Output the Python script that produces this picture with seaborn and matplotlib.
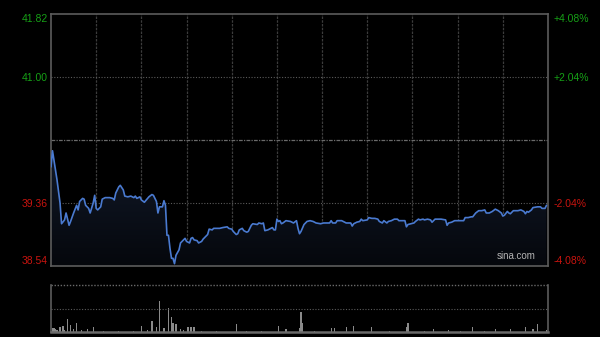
import numpy as np
import pandas as pd
import matplotlib
matplotlib.use("Agg")
import matplotlib.pyplot as plt
import seaborn as sns
from matplotlib.colors import LinearSegmentedColormap

# ---------------- data ----------------
prev_close = 40.18
minutes = [0, 1, 4, 6, 7, 9, 10, 12, 13, 15,
           17, 18, 19, 21, 22, 23, 25, 26, 28, 29,
           30, 31, 33, 34, 36, 39, 41, 42, 43, 45,
           46, 48, 49, 51, 53, 55, 56, 57, 59, 60,
           62, 65, 67, 68, 70, 71, 72, 74, 75, 76,
           77, 78, 79, 80, 81, 82, 83, 85, 86, 88,
           89, 90, 92, 93, 94, 95, 97, 98, 100, 101,
           103, 104, 105, 107, 108, 112, 114, 117, 118, 120,
           121, 123, 124, 125, 127, 128, 130, 131, 133, 134,
           137, 138, 140, 141, 142, 144, 147, 148, 149, 150,
           151, 152, 153, 154, 156, 159, 161, 163, 164, 165,
           166, 168, 170, 172, 174, 176, 179, 181, 183, 185,
           186, 187, 189, 190, 193, 194, 196, 197, 199, 200,
           201, 203, 205, 206, 207, 210, 211, 213, 215, 217,
           218, 220, 221, 223, 224, 226, 228, 230, 231, 233,
           235, 236, 237, 239, 241, 242, 244, 245, 247, 248,
           250, 252, 253, 255, 257, 259, 262, 263, 264, 266,
           268, 270, 274, 275, 277, 279, 280, 282, 284, 286,
           288, 289, 291, 293, 295, 297, 299, 300, 301, 303,
           304, 305, 307, 309, 310, 312, 314, 315, 316, 317,
           319, 320, 323, 325, 326, 328, 329]
prices = [39.83, 40.04, 39.66, 39.36, 39.09, 39.14, 39.23, 39.07, 39.12, 39.23,
          39.33, 39.27, 39.38, 39.42, 39.41, 39.33, 39.29, 39.23, 39.36, 39.46,
          39.29, 39.27, 39.31, 39.41, 39.43, 39.43, 39.42, 39.40, 39.49, 39.57,
          39.59, 39.53, 39.45, 39.44, 39.45, 39.43, 39.45, 39.42, 39.44, 39.40,
          39.37, 39.44, 39.47, 39.46, 39.38, 39.23, 39.31, 39.31, 39.39, 39.33,
          38.94, 38.94, 38.77, 38.64, 38.64, 38.57, 38.68, 38.75, 38.84, 38.88,
          38.90, 38.86, 38.84, 38.90, 38.91, 38.88, 38.87, 38.84, 38.86, 38.89,
          38.93, 38.95, 39.02, 39.01, 39.03, 39.03, 39.04, 39.05, 39.03, 39.02,
          38.99, 38.95, 38.96, 39.01, 39.03, 39.00, 38.98, 38.99, 39.07, 39.09,
          39.08, 39.10, 39.09, 39.10, 39.00, 39.01, 39.04, 39.01, 39.01, 39.15,
          39.12, 39.13, 39.09, 39.10, 39.13, 39.12, 39.10, 39.13, 39.03, 38.96,
          38.99, 39.08, 39.12, 39.13, 39.12, 39.10, 39.09, 39.10, 39.10, 39.10,
          39.13, 39.10, 39.10, 39.13, 39.13, 39.12, 39.10, 39.10, 39.10, 39.06,
          39.09, 39.11, 39.12, 39.15, 39.13, 39.14, 39.17, 39.16, 39.16, 39.15,
          39.12, 39.10, 39.13, 39.10, 39.12, 39.13, 39.15, 39.15, 39.13, 39.13,
          39.13, 39.05, 39.08, 39.09, 39.10, 39.12, 39.15, 39.14, 39.15, 39.14,
          39.15, 39.14, 39.11, 39.15, 39.15, 39.15, 39.14, 39.07, 39.10, 39.11,
          39.13, 39.13, 39.13, 39.17, 39.17, 39.18, 39.18, 39.23, 39.26, 39.26,
          39.27, 39.23, 39.23, 39.25, 39.28, 39.26, 39.23, 39.19, 39.20, 39.25,
          39.23, 39.22, 39.26, 39.26, 39.26, 39.27, 39.25, 39.22, 39.25, 39.24,
          39.27, 39.30, 39.31, 39.31, 39.29, 39.29, 39.33]

vol_minutes = [1, 2, 3, 4, 6, 8, 9, 11, 13, 15, 17, 20, 24, 28, 35, 45, 55, 60, 64, 67,
               70, 72, 75, 78, 80, 81, 83, 86, 88, 91, 93, 95, 100, 110, 123, 130, 140, 151,
               156, 165, 166, 167, 175, 186, 188, 196, 201, 213, 225, 236, 237, 248, 254,
               264, 272, 280, 288, 295, 305, 315, 320, 323, 329]
volumes = [20000, 20000, 15000, 12000, 28000, 33000, 12000, 65000, 37000, 15000, 48000,
           10000, 17000, 25000, 8000, 8000, 8000, 33000, 10000, 58000,
           25000, 160000, 20000, 122000, 76000, 45000, 42000, 15000, 12000, 25000, 25000,
           28000, 8000, 8000, 42000, 8000, 8000, 33000,
           15000, 20000, 105000, 48000, 8000, 20000, 20000, 25000, 33000, 25000, 8000,
           25000, 48000, 8000, 15000,
           10000, 8000, 25000, 8000, 15000, 15000, 25000, 15000, 40000, 10000]

y_left_ticks = [38.54, 39.36, 41.00, 41.82]
y_left_labels = ["38.54", "39.36", "41.00", "41.82"]
y_right_labels = ["-4.08%", "-2.04%", "+2.04%", "+4.08%"]
tick_colors = ["#c8140f", "#c8140f", "#16a016", "#16a016"]

# ---------------- style ----------------
sns.set_style("dark")
plt.rcParams["font.family"] = ["Liberation Sans", "DejaVu Sans"]
plt.rcParams["axes.facecolor"] = "black"
plt.rcParams["figure.facecolor"] = "black"

fig = plt.figure(figsize=(6.0, 3.37), dpi=100)
fig.patch.set_facecolor("black")

W, H = 600.0, 337.0
ax = fig.add_axes([51 / W, 1 - 266 / H, 497 / W, 252 / H])
axv = fig.add_axes([51 / W, 1 - 332.3 / H, 497 / W, 47.3 / H])

ymin, ymax = 38.54, 41.82
df = pd.DataFrame({"minute": minutes, "price": prices})

# gradient fill under the line
poly = ax.fill_between(df["minute"], df["price"], ymin, color="none", lw=0)
cmap = LinearSegmentedColormap.from_list("f", ["#05070c", "#121a2a"])
grad = np.linspace(0, 1, 256).reshape(-1, 1)
img = ax.imshow(grad, extent=[0, 330, ymin, df["price"].max()], origin="lower",
                aspect="auto", cmap=cmap, zorder=1)
img.set_clip_path(poly.get_paths()[0], transform=ax.transData)

sns.lineplot(data=df, x="minute", y="price", ax=ax, color="#4a7ad0", lw=1.2, zorder=3)

ax.set_xlim(0, 330)
ax.set_ylim(ymin, ymax)
ax.set_facecolor("black")
ax.grid(False)
ax.set_xlabel("")
ax.set_ylabel("")
ax.set_xticks([])

# grid lines
for m in range(30, 330, 30):
    ax.axvline(m, color="#3c3c3c", lw=0.9, ls=(0, (2, 1)), zorder=0.5)
for p in [41.00, 39.36]:
    ax.axhline(p, color="#5a5a5a", lw=0.8, ls=(0, (1, 1.5)), zorder=0.5)
ax.axhline(prev_close, color="#6a6a6a", lw=0.9, ls=(0, (3, 1, 1, 1)), zorder=0.5)

for s in ax.spines.values():
    s.set_color("#5c5c5c")
    s.set_linewidth(1.2)

ax.set_yticks(y_left_ticks)
ax.set_yticklabels(y_left_labels)
ax.tick_params(axis="y", length=0, pad=2.5, labelsize=7.5)
for lab, c in zip(ax.get_yticklabels(), tick_colors):
    lab.set_color(c)
ax.get_yticklabels()[0].set_va("bottom")
ax.get_yticklabels()[-1].set_va("top")

axr = ax.twinx()
axr.set_ylim(ymin, ymax)
axr.set_yticks(y_left_ticks)
axr.set_yticklabels(y_right_labels)
axr.tick_params(axis="y", length=0, pad=4, labelsize=7.5)
for lab, c in zip(axr.get_yticklabels(), tick_colors):
    lab.set_color(c)
axr.get_yticklabels()[0].set_va("bottom")
axr.get_yticklabels()[-1].set_va("top")
axr.grid(False)
for s in axr.spines.values():
    s.set_visible(False)

ax.text(0.975, 0.018, "sina.com", transform=ax.transAxes, ha="right", va="bottom",
        color="#b4b4b4", fontsize=7, zorder=5)

# volume panel
axv.bar(vol_minutes, volumes, width=0.8, color="#8a8a8a", lw=0)
axv.set_xlim(0, 330)
axv.set_ylim(0, 240000)
axv.set_facecolor("black")
axv.grid(False)
axv.set_xticks([])
axv.set_yticks([])
axv.axhline(120000, color="#5a5a5a", lw=0.8, ls=(0, (1, 1.5)))
axv.axhline(240000, color="#6a6a6a", lw=1.0, ls=(0, (1, 1.2)), clip_on=False)
axv.spines["top"].set_visible(False)
axv.spines["left"].set_color("#5c5c5c")
axv.spines["right"].set_color("#5c5c5c")
axv.spines["bottom"].set_color("#6a6a6a")
axv.spines["bottom"].set_linewidth(1.8)
for side in ["left", "right"]:
    axv.spines[side].set_linewidth(1.2)

fig.savefig("out.png", dpi=100, facecolor="black")
